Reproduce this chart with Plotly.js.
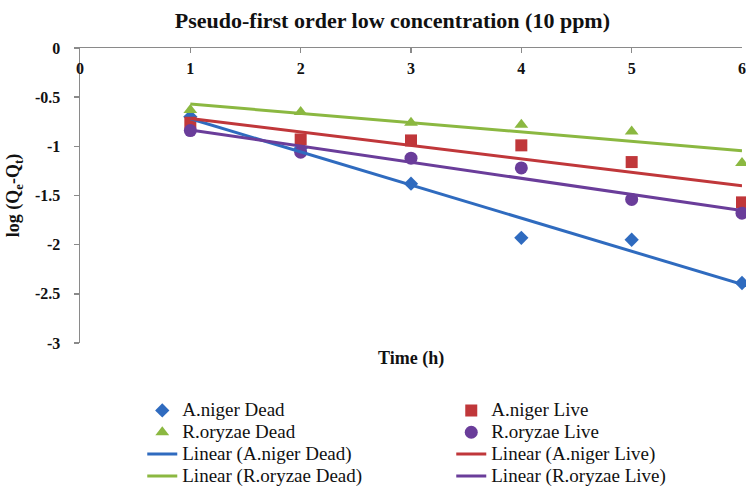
<!DOCTYPE html>
<html><head><meta charset="utf-8">
<script src="https://cdn.plot.ly/plotly-3.0.1.min.js"></script>
<style>html,body{margin:0;padding:0;background:#fff}#chart{width:746px;height:487px}</style>
</head><body><div id="chart"></div>
<script>
// ---- data ----
const time = [1, 2, 3, 4, 5, 6];
const anigerDead   = [-0.70, -1.02, -1.38, -1.93, -1.95, -2.39];
const anigerLive   = [-0.76, -0.93, -0.94, -0.99, -1.16, -1.57];
const roryzaeDead  = [-0.63, -0.65, -0.76, -0.78, -0.85, -1.17];
const roryzaeLive  = [-0.84, -1.06, -1.12, -1.22, -1.54, -1.68];
const seriesNames  = ['A.niger Dead', 'A.niger Live', 'R.oryzae Dead', 'R.oryzae Live'];
const xTickVals    = [0, 1, 2, 3, 4, 5, 6];
const xTickText    = ['0', '1', '2', '3', '4', '5', '6'];
const yTickVals    = [0, -0.5, -1, -1.5, -2, -2.5, -3];
const yTickText    = ['0', '-0.5', '-1', '-1.5', '-2', '-2.5', '-3'];

// ---- styles ----
const colors  = ['#2F6BBF', '#C0373A', '#8BB841', '#6A3D9A'];
const symbols = ['diamond', 'square', 'triangle-up', 'circle'];
const sizes   = [11, 12, 12, 13];
const serif = 'Liberation Serif, Times New Roman, serif';
const legendText = s => '<span style="font-size:19px">' + s + '</span>';

const seriesData = [anigerDead, anigerLive, roryzaeDead, roryzaeLive];

function linearFit(xs, ys) {
  const n = xs.length;
  const mx = xs.reduce((a, b) => a + b, 0) / n;
  const my = ys.reduce((a, b) => a + b, 0) / n;
  let sxy = 0, sxx = 0;
  for (let i = 0; i < n; i++) { sxy += (xs[i] - mx) * (ys[i] - my); sxx += (xs[i] - mx) ** 2; }
  const slope = sxy / sxx;
  return x => my + slope * (x - mx);
}

const traces = [];
seriesData.forEach((ys, i) => {
  traces.push({
    type: 'scatter', mode: 'markers', x: time, y: ys, name: legendText(seriesNames[i]),
    marker: {symbol: symbols[i], size: sizes[i], color: colors[i]},
    cliponaxis: false
  });
});
seriesData.forEach((ys, i) => {
  const f = linearFit(time, ys);
  const xEnds = [time[0], time[time.length - 1]];
  traces.push({
    type: 'scatter', mode: 'lines', x: xEnds, y: xEnds.map(f),
    name: legendText('Linear (' + seriesNames[i] + ')'),
    line: {color: colors[i], width: 3}, cliponaxis: false
  });
});

const axisColor = '#8a8a8a';
const layout = {
  width: 746, height: 487,
  margin: {l: 80, r: 4, t: 48, b: 144},
  paper_bgcolor: '#fff', plot_bgcolor: '#fff',
  font: {family: serif, color: '#000'},
  title: {
    text: 'Pseudo-first order low concentration (10 ppm)',
    font: {family: serif, size: 22, weight: 'bold', color: '#111'},
    xref: 'container', x: 0.526, xanchor: 'center',
    yref: 'container', y: 0.959, yanchor: 'middle'
  },
  xaxis: {
    range: [0, 6], side: 'top', showline: true, linecolor: axisColor, linewidth: 1.5,
    ticks: 'inside', ticklen: 5, tickcolor: axisColor, tickwidth: 1.5,
    tickvals: xTickVals, ticktext: xTickText, ticklabelstandoff: -34,
    tickfont: {family: serif, size: 16, weight: 'bold', color: '#111'},
    showgrid: false, zeroline: false, fixedrange: true
  },
  yaxis: {
    range: [-3, 0], showline: true, linecolor: axisColor, linewidth: 1.5,
    ticks: 'outside', ticklen: 5, tickcolor: axisColor, tickwidth: 1.5,
    tickvals: yTickVals, ticktext: yTickText, ticklabelstandoff: 10,
    tickfont: {family: serif, size: 16, weight: 'bold', color: '#111'},
    showgrid: false, zeroline: false, fixedrange: true,
    title: {text: 'log (Q<sub>e</sub>-Q<sub>t</sub>)', font: {family: serif, size: 18, weight: 'bold', color: '#111'}, standoff: 10}
  },
  annotations: [{
    text: 'Time (h)', xref: 'paper', yref: 'paper', x: 0.5, y: -0.054,
    xanchor: 'center', yanchor: 'middle', showarrow: false,
    font: {family: serif, size: 18, weight: 'bold', color: '#111'}
  }],
  legend: {
    orientation: 'h', xref: 'container', yref: 'container',
    x: 0.1907, xanchor: 'left', y: 0.19, yanchor: 'top',
    entrywidth: 264, entrywidthmode: 'pixels',
    font: {family: serif, size: 14.5, color: '#111'},
    bgcolor: 'rgba(0,0,0,0)', traceorder: 'normal'
  },
  showlegend: true
};

Plotly.newPlot('chart', traces, layout, {displayModeBar: false, staticPlot: true});
</script>
</body></html>
